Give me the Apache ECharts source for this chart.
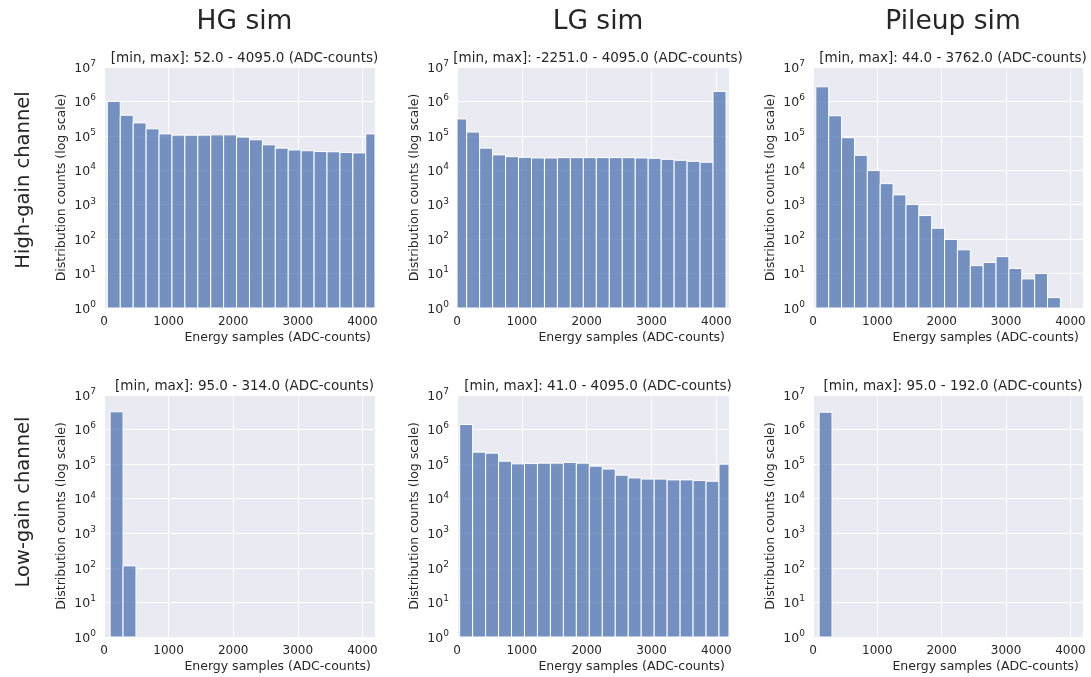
<!DOCTYPE html>
<html>
<head>
<meta charset="utf-8">
<script src="https://cdn.jsdelivr.net/npm/echarts@6/dist/echarts.min.js"></script>
<style>html,body{margin:0;padding:0;background:#fff;}#c{width:1091px;height:677px;}</style>
</head>
<body>
<div id="c"></div>
<script>
// ---- data ----
const BIN_WIDTH = 200;
const colTitles = ['HG sim', 'LG sim', 'Pileup sim'];
const rowTitles = ['High-gain channel', 'Low-gain channel'];
const xTicks = [0, 1000, 2000, 3000, 4000];
const yTickExps = [0, 1, 2, 3, 4, 5, 6, 7];

const hgHighStarts = [52,252,452,652,852,1052,1252,1452,1652,1852,2052,2252,2452,2652,2852,3052,3252,3452,3652,3852,4052];
const hgHighCounts = [1000000,398000,238000,160000,114000,105000,105000,105000,107000,107000,92000,77000,55000,44000,39000,37000,35000,34500,33000,32000,114000];

const lgHighStarts = [-51,149,349,549,749,949,1149,1349,1549,1749,1949,2149,2349,2549,2749,2949,3149,3349,3549,3749,3949];
const lgHighCounts = [310000,129000,44000,28000,24900,23800,22800,22800,23300,23300,23300,23300,23300,23300,22800,22300,20800,19500,18200,17100,1950000];

const puHighStarts = [44,244,444,644,844,1044,1244,1444,1644,1844,2044,2244,2444,2644,2844,3044,3244,3444,3644];
const puHighCounts = [2660000,384000,88500,27200,9800,4100,1930,1010,485,208,98,49,17,21,31,14,7,10,2];

const hgLowStarts = [95,295];
const hgLowCounts = [3270000,114];

const lgLowStarts = [41,241,441,641,841,1041,1241,1441,1641,1841,2041,2241,2441,2641,2841,3041,3241,3441,3641,3841,4041];
const lgLowCounts = [1400000,222000,208000,122000,102000,105000,107000,107000,112000,107000,87500,72000,48000,40000,37000,37000,35000,35000,33700,32000,100000];

const puLowStarts = [95];
const puLowCounts = [3180000];

const panelTitles = [
  '[min, max]: 52.0 - 4095.0 (ADC-counts)',
  '[min, max]: -2251.0 - 4095.0 (ADC-counts)',
  '[min, max]: 44.0 - 3762.0 (ADC-counts)',
  '[min, max]: 95.0 - 314.0 (ADC-counts)',
  '[min, max]: 41.0 - 4095.0 (ADC-counts)',
  '[min, max]: 95.0 - 192.0 (ADC-counts)'
];
const panels = [
  [hgHighStarts, hgHighCounts], [lgHighStarts, lgHighCounts], [puHighStarts, puHighCounts],
  [hgLowStarts, hgLowCounts], [lgLowStarts, lgLowCounts], [puLowStarts, puLowCounts]
];
const xMax = 4195;

// ---- layout ----
const colLeft = [104, 457, 813];
const colWidth = [271, 272, 270];
const rowTop = [67, 395];
const rowHeight = [241, 242];
const TXT = '#262626';
const FONT = 'DejaVu Sans';

const grids = [], xAxes = [], yAxes = [], series = [], titles = [], graphics = [];
panels.forEach((p, i) => {
  const r = Math.floor(i / 3), c = i % 3;
  grids.push({left: colLeft[c], top: rowTop[r], width: colWidth[c], height: rowHeight[r],
    show: true, backgroundColor: '#EAEAF2', borderWidth: 0, containLabel: false});
  xAxes.push({
    type: 'value', gridIndex: i, min: 0, max: xMax, interval: 1000,
    axisLine: {show: false}, axisTick: {show: false},
    axisLabel: {color: TXT, fontFamily: FONT, fontSize: 12, margin: 8,
      showMaxLabel: false,
      formatter: v => (xTicks.indexOf(v) >= 0 ? String(v) : '')},
    splitLine: {show: true, lineStyle: {color: '#ffffff', width: 1}},
    name: 'Energy samples (ADC-counts)', nameLocation: 'end', nameGap: -4,
    nameTextStyle: {color: TXT, fontFamily: FONT, fontSize: 12.5, align: 'right', verticalAlign: 'top', padding: [23, 0, 0, 0]}
  });
  yAxes.push({
    type: 'log', logBase: 10, gridIndex: i, min: 1, max: 1e7,
    axisLine: {show: false}, axisTick: {show: false},
    axisLabel: {color: TXT, fontFamily: FONT, margin: 8,
      formatter: v => { const e = Math.round(Math.log10(v)); return yTickExps.indexOf(e) >= 0 ? '{b|10}{s|' + e + '}' : ''; },
      rich: {
        b: {fontSize: 12.5, fontFamily: FONT, color: TXT, lineHeight: 16, verticalAlign: 'bottom'},
        s: {fontSize: 9, fontFamily: FONT, color: TXT, lineHeight: 10, verticalAlign: 'top'}
      }},
    splitLine: {show: true, lineStyle: {color: '#ffffff', width: 1}},
    name: 'Distribution counts (log scale)', nameLocation: 'middle', nameGap: 36, nameRotate: 90,
    nameTextStyle: {color: TXT, fontFamily: FONT, fontSize: 12.5}
  });
  series.push({
    type: 'custom', xAxisIndex: i, yAxisIndex: i,
    data: p[0].map((s, k) => [s, s + BIN_WIDTH, p[1][k]]),
    renderItem: (params, api) => {
      const p0 = api.coord([api.value(0), api.value(2)]);
      const p1 = api.coord([api.value(1), 1]);
      const rect = echarts.graphic.clipRectByRect(
        {x: p0[0], y: p0[1], width: p1[0] - p0[0], height: p1[1] - p0[1]},
        {x: params.coordSys.x, y: params.coordSys.y, width: params.coordSys.width, height: params.coordSys.height});
      if (!rect) return null;
      return {type: 'rect', shape: rect,
        style: {fill: 'rgba(76,114,176,0.75)', stroke: '#ffffff', lineWidth: 1}};
    }
  });
  titles.push({text: panelTitles[i], left: colLeft[c] + colWidth[c] / 2, top: rowTop[r] - 21,
    textAlign: 'center', textStyle: {color: TXT, fontFamily: FONT, fontSize: 13.5, fontWeight: 'normal'}});
});
colTitles.forEach((t, c) => {
  titles.push({text: t, left: colLeft[c] + colWidth[c] / 2, top: 4, textAlign: 'center',
    textStyle: {color: TXT, fontFamily: FONT, fontSize: 26.5, fontWeight: 'normal'}});
});
const rowCenters = [180, 502];
rowTitles.forEach((t, r) => {
  graphics.push({type: 'text', x: 24, y: rowCenters[r], rotation: Math.PI / 2,
    style: {text: t, fill: TXT, font: '19.5px "DejaVu Sans"', textAlign: 'center', textVerticalAlign: 'middle'}});
});

const chart = echarts.init(document.getElementById('c'), null, {renderer: 'canvas'});
chart.setOption({
  backgroundColor: '#ffffff',
  animation: false,
  title: titles,
  grid: grids, xAxis: xAxes, yAxis: yAxes, series: series,
  graphic: graphics
});
</script>
</body>
</html>
